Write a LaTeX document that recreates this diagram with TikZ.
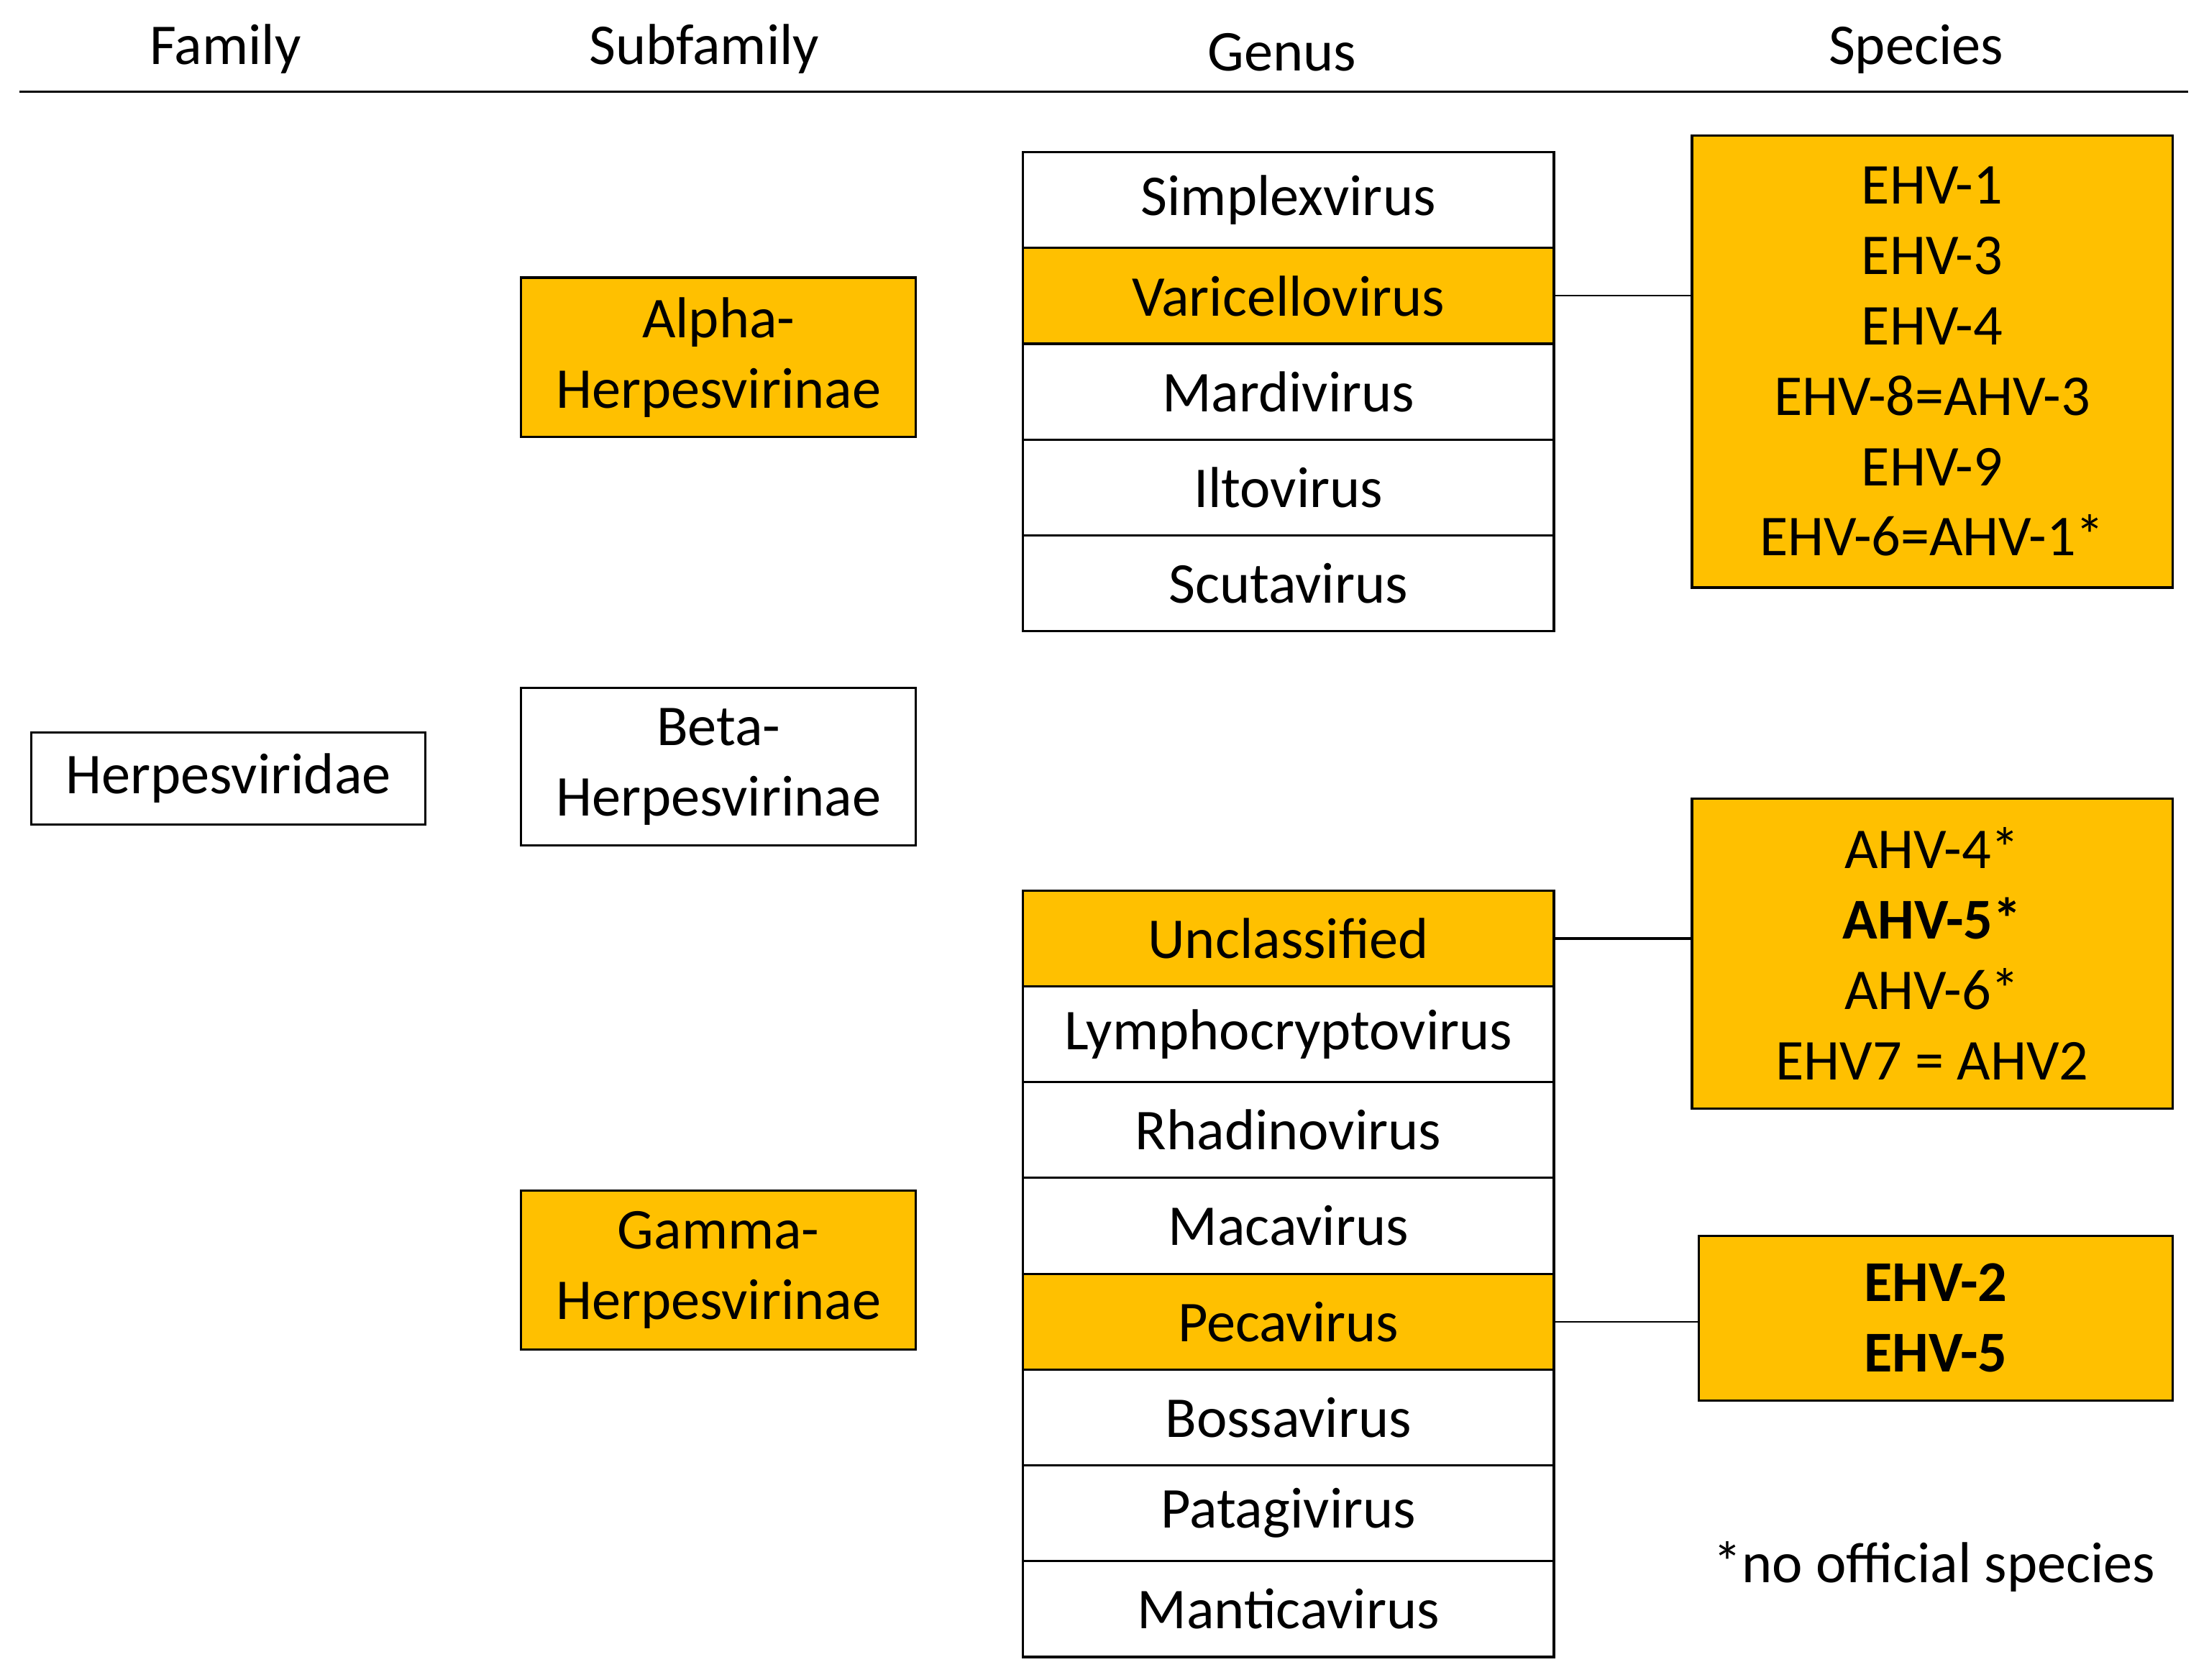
\documentclass[tikz,border=0pt]{standalone}
\usepackage{fontspec}
\setmainfont{Carlito}
\definecolor{org}{HTML}{FFC000}
\begin{document}
\begin{tikzpicture}[x=0.5pt,y=-0.5pt,
 bx/.style={draw=black,line width=0.8pt,inner sep=0pt,font=\fontsize{20.5}{25}\selectfont,align=center},
 ob/.style={bx,fill=org},
 hd/.style={font=\fontsize{20.5}{24}\selectfont},
 ln/.style={line width=0.5pt}]
\useasboundingbox (0,0) rectangle (1568,1192);
\node[hd] (h1) at (160,35) {Family};
\node[hd] (h2) at (500,35) {Subfamily};
\node[hd] (h3) at (910,37) {Genus};
\node[hd] (h4) at (1360,35) {Species};
\coordinate (la) at (14,65); \coordinate (lb) at (1553,65);
\draw[line width=0.6pt] (la) -- (lb);
\node[bx,minimum width=140pt,minimum height=32.5pt] (fam) at (162,552.5) {Herpesviridae};
\node[ob,minimum width=140pt,minimum height=56.5pt] (alpha) at (510,253.5) {Alpha-\\Herpesvirinae};
\node[bx,minimum width=140pt,minimum height=56pt] (beta) at (510,544) {Beta-\\Herpesvirinae};
\node[ob,minimum width=140pt,minimum height=56.5pt] (gamma) at (510,901.5) {Gamma-\\Herpesvirinae};
\foreach \n/\t/\s [count=\i from 0] in {g1/Simplexvirus/bx,g2/Varicellovirus/ob,g3/Mardivirus/bx,g4/Iltovirus/bx,g5/Scutavirus/bx}
  \node[\s,minimum width=188.5pt,minimum height=34pt] (\n) at (914.5,142+68*\i) {\t};
\foreach \n/\t/\s [count=\i from 0] in {k1/Unclassified/ob,k2/Lymphocryptovirus/bx,k3/Rhadinovirus/bx,k4/Macavirus/bx,k5/Pecavirus/ob,k6/Bossavirus/bx,k7/Patagivirus/bx,k8/Manticavirus/bx}
  \node[\s,minimum width=188.5pt,minimum height=34pt] (\n) at (914.5,666+68*\i) {\t};
\node[ob,minimum width=170.5pt,minimum height=160.5pt,font=\fontsize{20.5}{25}\selectfont] (s1) at (1371.5,256.5) {EHV-1\\EHV-3\\EHV-4\\EHV-8=AHV-3\\EHV-9\\EHV-6=AHV-1*};
\node[ob,minimum width=170.5pt,minimum height=110pt,font=\fontsize{20.5}{25}\selectfont] (s2) at (1371.5,677) {AHV-4*\\\textbf{AHV-5*}\\AHV-6*\\EHV7 = AHV2};
\node[ob,minimum width=168pt,minimum height=58.5pt,font=\fontsize{20.5}{25}\selectfont\bfseries] (s3) at (1374,935.5) {EHV-2\\EHV-5};
\node[font=\fontsize{20.5}{24}\selectfont] (note) at (1373,1112) {*no official species};
\draw[ln] (g2.east) -- (g2.east -| s1.west);
\draw[line width=1pt] (k1.east) -- (k1.east -| s2.west);
\draw[ln] (k5.east) -- (k5.east -| s3.west);
\end{tikzpicture}
\end{document}
